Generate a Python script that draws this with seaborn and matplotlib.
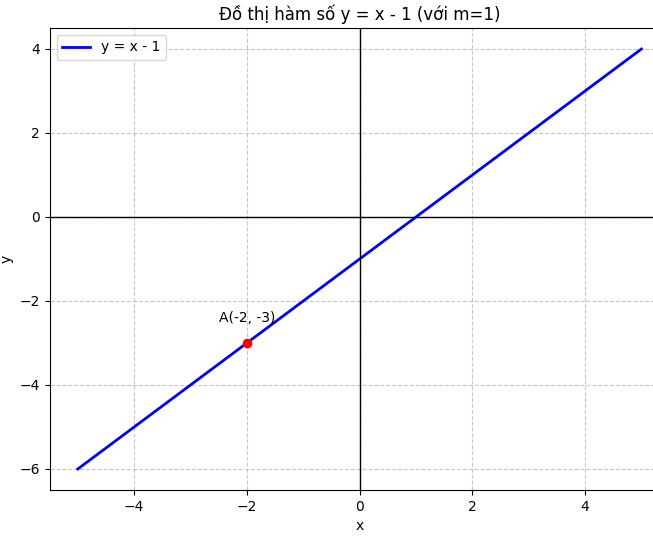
import matplotlib
matplotlib.use("Agg")
import matplotlib.pyplot as plt
import seaborn as sns

# values
x_vals = [-5, -4, -3, -2, -1, 0, 1, 2, 3, 4, 5]
y_vals = [-6, -5, -4, -3, -2, -1, 0, 1, 2, 3, 4]
point_x = [-2]
point_y = [-3]
point_label = "A(-2, -3)"

fig = plt.figure(figsize=(6.53, 5.39), dpi=100)
ax = fig.add_axes([49.6 / 653, 49 / 539, 620 / 653, 462 / 539])

sns.lineplot(x=x_vals, y=y_vals, color="blue", linewidth=2, label="y = x - 1", ax=ax)
ax.plot(point_x, point_y, "ro")
ax.text(point_x[0], point_y[0] + 0.5, point_label, ha="center")

ax.axhline(0, color="black", linewidth=1)
ax.axvline(0, color="black", linewidth=1)
ax.grid(True, linestyle="--", alpha=0.7)

ax.set_xlim(-5.5, 5.5)
ax.set_ylim(-6.5, 4.5)
ax.set_title("Đồ thị hàm số y = x - 1 (với m=1)")
ax.set_xlabel("x")
ax.set_ylabel("y")
ax.legend(loc="upper left")

fig.savefig("out.png", dpi=100)
